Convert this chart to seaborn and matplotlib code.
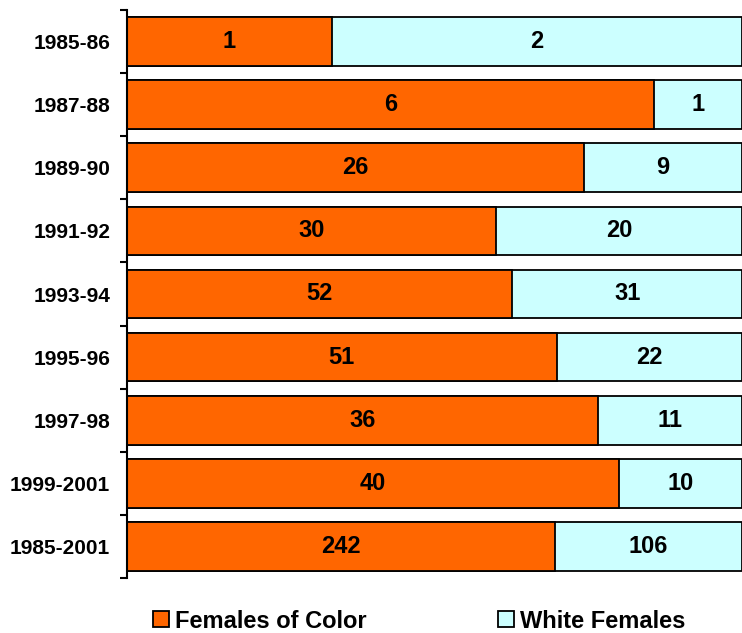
import matplotlib
matplotlib.use("Agg")
import matplotlib.pyplot as plt
import numpy as np
import pandas as pd
import seaborn as sns
from matplotlib.patches import Patch

periods = ["1985-86", "1987-88", "1989-90", "1991-92", "1993-94",
           "1995-96", "1997-98", "1999-2001", "1985-2001"]
females_of_color = [1, 6, 26, 30, 52, 51, 36, 40, 242]
white_females = [2, 1, 9, 20, 31, 22, 11, 10, 106]

orange = "#FF6600"
cyan = "#CCFFFF"

sns.set_theme(style="white")
plt.rcParams["font.family"] = ["Liberation Sans", "DejaVu Sans"]
plt.rcParams["font.weight"] = "bold"
plt.rcParams["text.color"] = "black"
plt.rcParams["ytick.color"] = "black"
plt.rcParams["ytick.labelcolor"] = "black"

df = pd.DataFrame({"period": periods, "color": females_of_color, "white": white_females})
df["total"] = df["color"] + df["white"]
df["color_share"] = df["color"] / df["total"]
df["full"] = 1.0

fig = plt.figure(figsize=(7.42, 6.33), dpi=100)
ax = fig.add_axes([127 / 742, 1 - 578 / 633, 1 - 127 / 742, (578 - 10) / 633])

sns.barplot(data=df, x="full", y="period", orient="h", color=cyan, width=0.77,
            edgecolor="black", linewidth=1.3, saturation=1, ax=ax)
sns.barplot(data=df, x="color_share", y="period", orient="h", color=orange, width=0.77,
            edgecolor="black", linewidth=1.3, saturation=1, ax=ax)

for i, row in df.iterrows():
    ax.text(row["color_share"] / 2, i, str(row["color"]), ha="center", va="center",
            fontsize=17, fontweight="bold", color="black")
    ax.text((1 + row["color_share"]) / 2, i, str(row["white"]), ha="center", va="center",
            fontsize=17, fontweight="bold", color="black")

ax.set_xlim(0, 1)
ax.set_ylim(len(periods) - 0.5, -0.5)
ax.set_xlabel("")
ax.set_ylabel("")
ax.set_xticks([])
ax.set_yticks(np.arange(len(periods)))
ax.set_yticklabels(periods, fontsize=15, fontweight="bold", color="black")
ax.set_yticks(np.arange(-0.5, len(periods), 1), minor=True)
ax.tick_params(axis="y", which="major", length=0, pad=12)
ax.tick_params(axis="y", which="minor", left=True, length=5, width=1.5, color="black", direction="out")

for side in ["top", "right", "bottom"]:
    ax.spines[side].set_visible(False)
ax.spines["left"].set_color("black")
ax.spines["left"].set_linewidth(1.5)

handles = [Patch(facecolor=orange, edgecolor="black", linewidth=1.3, label="Females of Color"),
           Patch(facecolor=cyan, edgecolor="black", linewidth=1.3, label="White Females")]
fig.legend(handles=handles, loc="center", bbox_to_anchor=(0.565, 1 - 621 / 633), ncol=2,
           frameon=False, prop={"size": 17, "weight": "bold"}, handlelength=0.65,
           handleheight=0.65, handletextpad=0.25, columnspacing=5.6, labelcolor="black")

fig.savefig("out.png", dpi=100)
